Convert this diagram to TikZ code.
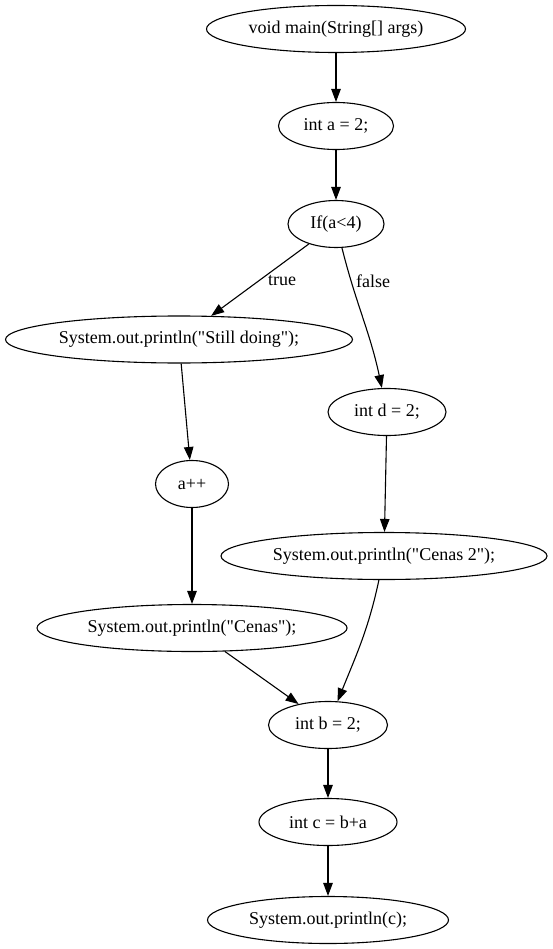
\documentclass[tikz,border=0pt]{standalone}
\usepackage{fontspec}
\setmainfont{Liberation Serif}
\newfontfamily\gvfont{Liberation Serif}
\usetikzlibrary{shapes.geometric,arrows.meta}
\begin{document}
\begin{tikzpicture}[x=1pt,y=-1pt,
  every node/.style={font=\gvfont\fontsize{18}{20}\selectfont},
  nd/.style={ellipse,draw,line width=1.1pt,inner sep=0pt,minimum height=47pt},
  ed/.style={line width=1.1pt,-{Triangle[length=13pt,width=9.5pt]}},
  lbl/.style={inner sep=0pt}]
\useasboundingbox (0,0) rectangle (552,949);
\node[nd,minimum width=259pt] (n1) at (336,29) {void main(String[] args)};
\node[nd,minimum width=115pt] (n2) at (336,126) {int a = 2;};
\node[nd,minimum width=96pt] (n3) at (336,224) {If(a<4)};
\node[nd,minimum width=347pt] (n4) at (179,339.5) {System.out.println("Still doing");};
\node[nd,minimum width=118pt] (n5) at (387,412) {int d = 2;};
\node[nd,minimum width=73pt] (n6) at (192,484) {a++};
\node[nd,minimum width=326pt] (n7) at (384,556) {System.out.println("Cenas 2");};
\node[nd,minimum width=310pt] (n8) at (192,628) {System.out.println("Cenas");};
\node[nd,minimum width=119pt] (n9) at (328,725) {int b = 2;};
\node[nd,minimum width=138pt] (n10) at (328,822) {int c = b+a};
\node[nd,minimum width=241pt] (n11) at (328,920) {System.out.println(c);};
\draw[ed] (n1) -- (n2);
\draw[ed] (n2) -- (n3);
\draw[ed] (n3) -- (n4);
\node[lbl] (t) at (282,281) {true};
\draw[ed] (n3) to[out=-76,in=102] (n5);
\node[lbl] (f) at (373,281) {false};
\draw[ed] (n4) -- (n6);
\draw[ed] (n6) -- (n8);
\draw[ed] (n5) -- (n7);
\draw[ed] (n7) to[out=-102,in=68] (n9);
\draw[ed] (n8) -- (n9);
\draw[ed] (n9) -- (n10);
\draw[ed] (n10) -- (n11);
\end{tikzpicture}
\end{document}
